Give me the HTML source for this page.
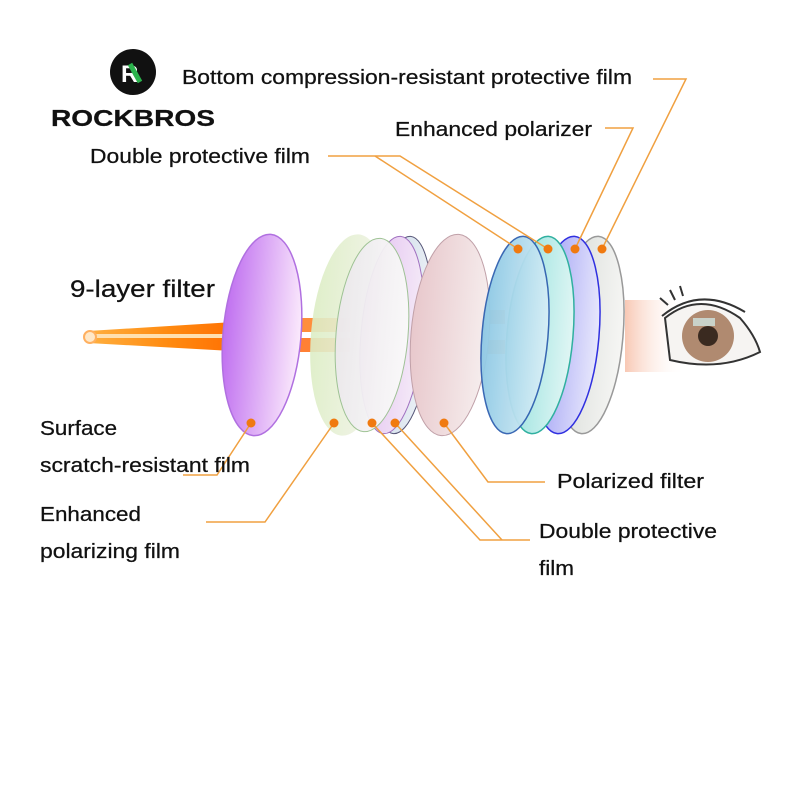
<!DOCTYPE html>
<html><head><meta charset="utf-8"><style>
html,body{margin:0;padding:0;background:#fff;}
svg{display:block}
text{font-family:"Liberation Sans",sans-serif;fill:#111;stroke:#111;stroke-width:0.25;}
</style></head><body>
<svg width="800" height="800" viewBox="0 0 800 800" xmlns="http://www.w3.org/2000/svg">
<defs>
<linearGradient id="beam" x1="0" x2="1"><stop offset="0" stop-color="#ffb040"/><stop offset="0.5" stop-color="#ff8a10"/><stop offset="1" stop-color="#ff6a00"/></linearGradient>
<linearGradient id="lp" x1="0" x2="1"><stop offset="0" stop-color="#c070f0"/><stop offset="1" stop-color="#fbeafc"/></linearGradient>
<linearGradient id="lg" x1="0" x2="1"><stop offset="0" stop-color="#dcedc4"/><stop offset="1" stop-color="#f4f4ec"/></linearGradient>
<linearGradient id="lw" x1="0" x2="1"><stop offset="0" stop-color="#ece8ec"/><stop offset="1" stop-color="#fafafa"/></linearGradient>
<linearGradient id="lv" x1="0" x2="1"><stop offset="0" stop-color="#e3c0f0"/><stop offset="1" stop-color="#f5ecf8"/></linearGradient>
<linearGradient id="lb" x1="0" x2="1"><stop offset="0" stop-color="#c8d8e8"/><stop offset="1" stop-color="#eef2f6"/></linearGradient>
<linearGradient id="lk" x1="0" x2="1"><stop offset="0" stop-color="#e8c8cc"/><stop offset="1" stop-color="#f6eeee"/></linearGradient>
<linearGradient id="lc" x1="0" x2="1"><stop offset="0" stop-color="#8cc8e4"/><stop offset="1" stop-color="#d8eef6"/></linearGradient>
<linearGradient id="lt" x1="0" x2="1"><stop offset="0" stop-color="#90e0dc"/><stop offset="1" stop-color="#e0f6f4"/></linearGradient>
<linearGradient id="lu" x1="0" x2="1"><stop offset="0" stop-color="#9c9cf4"/><stop offset="1" stop-color="#e8e8fc"/></linearGradient>
<linearGradient id="lx" x1="0" x2="1"><stop offset="0" stop-color="#d8dcd8"/><stop offset="1" stop-color="#f6f6f4"/></linearGradient>
<linearGradient id="out" x1="0" x2="1"><stop offset="0" stop-color="#f8c8b4"/><stop offset="1" stop-color="#fff" stop-opacity="0"/></linearGradient>
</defs>

<circle cx="133" cy="72" r="23" fill="#111"/>
<text x="121" y="82" font-size="24" font-weight="bold" style="fill:#fff;stroke:none">R</text>
<path d="M130 64 L140 82" stroke="#2bb24c" stroke-width="5"/>
<text x="51" y="126" font-size="23" font-weight="bold" textLength="164" lengthAdjust="spacingAndGlyphs">ROCKBROS</text>

<path d="M88 331 L250 321 L250 352 L88 343 Z" fill="url(#beam)"/>
<rect x="95" y="334" width="155" height="4" fill="#ffe0b0"/>
<circle cx="90" cy="337" r="6" fill="#ffe8c8" stroke="#ffb060" stroke-width="2"/>
<rect x="300" y="318" width="50" height="14" fill="#ff7a1a" opacity="0.85"/>
<rect x="300" y="338" width="50" height="14" fill="#ff6a10" opacity="0.85"/>
<rect x="430" y="318" width="20" height="14" fill="#ff7a1a" opacity="0.7"/>
<rect x="430" y="340" width="20" height="14" fill="#ff6a10" opacity="0.7"/>
<rect x="485" y="310" width="20" height="14" fill="#ff8a3a" opacity="0.6"/>
<rect x="485" y="340" width="20" height="14" fill="#ff7a2a" opacity="0.6"/>
<rect x="625" y="300" width="60" height="72" fill="url(#out)"/>

<ellipse cx="262" cy="335" rx="39" ry="101" transform="rotate(5 262 335)" fill="url(#lp)" stroke="#b070e0" stroke-width="1.5"/>
<ellipse cx="350" cy="335" rx="39" ry="101" transform="rotate(5 350 335)" fill="url(#lg)" opacity="0.9"/>
<ellipse cx="402" cy="335" rx="29" ry="99" transform="rotate(5 402 335)" fill="url(#lb)" stroke="#557" stroke-width="1"/>
<ellipse cx="392" cy="335" rx="31" ry="99" transform="rotate(5 392 335)" fill="url(#lv)" stroke="#a070c0" stroke-width="1"/>
<ellipse cx="372" cy="335" rx="36" ry="97" transform="rotate(5 372 335)" fill="url(#lw)" stroke="#9ac090" stroke-width="1" opacity="0.95"/>
<ellipse cx="450" cy="335" rx="39" ry="101" transform="rotate(5 450 335)" fill="url(#lk)" stroke="#c0a0a8" stroke-width="1"/>
<ellipse cx="590" cy="335" rx="33" ry="99" transform="rotate(5 590 335)" fill="url(#lx)" stroke="#999" stroke-width="1.5"/>
<ellipse cx="566" cy="335" rx="33" ry="99" transform="rotate(5 566 335)" fill="url(#lu)" stroke="#3030e0" stroke-width="1.5"/>
<ellipse cx="540" cy="335" rx="33" ry="99" transform="rotate(5 540 335)" fill="url(#lt)" stroke="#30b0a0" stroke-width="1.5"/>
<ellipse cx="515" cy="335" rx="33" ry="99" transform="rotate(5 515 335)" fill="url(#lc)" stroke="#3060b0" stroke-width="1.5" opacity="0.95"/>

<path d="M665 318 Q700 290 740 318 Q755 335 760 352 Q720 372 670 360 Z" fill="#f6f4f2" stroke="#333" stroke-width="2"/>
<circle cx="708" cy="336" r="26" fill="#b08a70"/>
<circle cx="708" cy="336" r="10" fill="#3a2a20"/>
<rect x="693" y="318" width="22" height="8" fill="#d0e4e0" opacity="0.8"/>
<path d="M662 316 Q700 285 745 312 M668 305 L660 298 M675 300 L670 290 M683 296 L680 286" stroke="#333" stroke-width="2" fill="none"/>

<g stroke="#f0a040" stroke-width="1.5" fill="none">
<polyline points="653,79 686,79 602,249"/>
<polyline points="605,128 633,128 575,249"/>
<polyline points="328,156 400,156 548,249"/>
<polyline points="375,156 518,249"/>
<polyline points="251,423 217,475 183,475"/>
<polyline points="334,423 265,522 206,522"/>
<polyline points="444,423 488,482 545,482"/>
<polyline points="372,423 480,540 530,540"/>
<polyline points="395,423 502,540"/>
</g>
<g fill="#f07a10">
<circle cx="518" cy="249" r="4.5"/><circle cx="548" cy="249" r="4.5"/><circle cx="575" cy="249" r="4.5"/><circle cx="602" cy="249" r="4.5"/>
<circle cx="251" cy="423" r="4.5"/><circle cx="334" cy="423" r="4.5"/><circle cx="372" cy="423" r="4.5"/><circle cx="395" cy="423" r="4.5"/><circle cx="444" cy="423" r="4.5"/>
</g>

<text x="182" y="84" font-size="20" textLength="450" lengthAdjust="spacingAndGlyphs">Bottom compression-resistant protective film</text>
<text x="395" y="136" font-size="20" textLength="197" lengthAdjust="spacingAndGlyphs">Enhanced polarizer</text>
<text x="90" y="163" font-size="20" textLength="220" lengthAdjust="spacingAndGlyphs">Double protective film</text>
<text x="70" y="297" font-size="24" textLength="145" lengthAdjust="spacingAndGlyphs">9-layer filter</text>
<text x="40" y="435" font-size="20" textLength="77" lengthAdjust="spacingAndGlyphs">Surface</text>
<text x="40" y="472" font-size="20" textLength="210" lengthAdjust="spacingAndGlyphs">scratch-resistant film</text>
<text x="40" y="521" font-size="20" textLength="101" lengthAdjust="spacingAndGlyphs">Enhanced</text>
<text x="40" y="558" font-size="20" textLength="140" lengthAdjust="spacingAndGlyphs">polarizing film</text>
<text x="557" y="488" font-size="20" textLength="147" lengthAdjust="spacingAndGlyphs">Polarized filter</text>
<text x="539" y="538" font-size="20" textLength="178" lengthAdjust="spacingAndGlyphs">Double protective</text>
<text x="539" y="575" font-size="20" textLength="35" lengthAdjust="spacingAndGlyphs">film</text>
</svg>
</body></html>
